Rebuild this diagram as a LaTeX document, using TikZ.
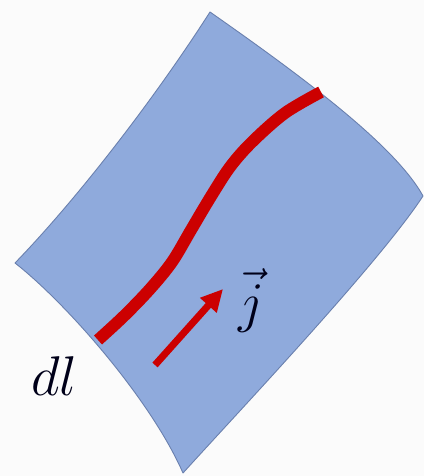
\RequirePackage{fix-cm}
\documentclass[tikz,border=0pt]{standalone}
\usetikzlibrary{arrows.meta}
\definecolor{sheetblue}{HTML}{8FAADC}
\definecolor{sheetedge}{HTML}{6A80AE}
\definecolor{wirered}{HTML}{CC0000}
\definecolor{bgwhite}{HTML}{FBFBFB}
\tikzset{
  sheet/.style={fill=sheetblue, draw=sheetedge, line width=0.9pt, line join=round},
  wire/.style={draw=wirered, line width=12pt},
  curarrow/.style={draw=wirered, line width=7pt, -{Triangle[length=22pt,width=21pt]}},
  biglabel/.style={inner sep=0pt, font=\fontsize{56}{60}\selectfont, text=black!90!blue},
}
\begin{document}
\begin{tikzpicture}[x=1pt,y=-1pt]
\fill[bgwhite] (0,0) rectangle (424,476);
\useasboundingbox (0,0) rectangle (424,476);
% sheet
\coordinate (T) at (210,12);
\coordinate (R) at (423,196);
\coordinate (B) at (183,473);
\coordinate (L) at (15,263);
\path[sheet] (T) .. controls (300,75) and (395,145) .. (R)
  .. controls (380,262) and (240,410) .. (B)
  .. controls (150,398) and (65,302) .. (L)
  .. controls (78,198) and (155,98) .. (T) -- cycle;
% current line
\draw[wire] plot[smooth, tension=0.55] coordinates {(98,340) (124,316) (150,289) (172,262) (191,230) (210,198) (230,167) (252,142) (285,113) (321,92)};
% current arrow
\coordinate (a0) at (155,365);
\coordinate (a1) at (223,289);
\draw[curarrow] (a0) -- (a1);
% labels
\node[biglabel, anchor=base west] (jlab) at (238,321) {$\vec{j}$};
\node[biglabel, anchor=base west] (dllab) at (31,395) {$dl$};
\end{tikzpicture}
\end{document}
